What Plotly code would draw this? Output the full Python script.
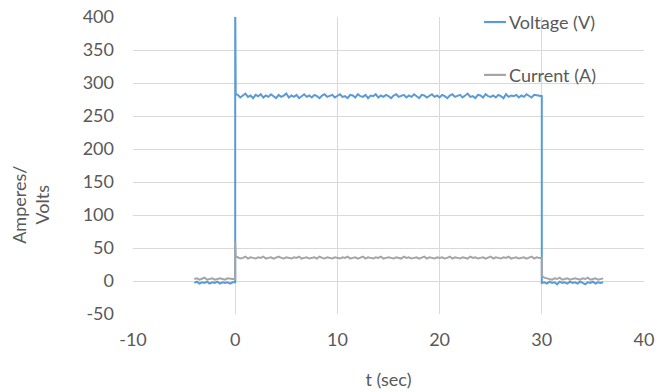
import plotly.graph_objects as go

# ---- data ----
DT = 0.25  # sampling period (s)
t_pre = [-4 + i * DT for i in range(16)]          # -4 .. -0.25
t_on = [DT * (i + 1) for i in range(119)]          # 0.25 .. 29.75
t_post = [30 + DT * (i + 1) for i in range(24)]    # 30.25 .. 36

v_pre = [-3, -1, -4, -2, -3, -1, -4, -2, -3, -1, -4, -2, -3, -2, -4, -2]
v_on = [282, 278, 281, 284, 279, 281, 277, 282, 280, 283, 278, 281, 279, 283, 280, 277, 282, 279, 281, 284,
        278, 281, 279, 282, 277, 280, 283, 279, 281, 278, 282, 280, 277, 281, 283, 279, 280, 282, 278, 281,
        283, 279, 280, 277, 282, 281, 278, 283, 280, 279, 282, 277, 281, 280, 283, 278, 281, 279, 282, 280,
        277, 281, 283, 279, 280, 282, 278, 281, 279, 283, 280, 277, 282, 281, 278, 280, 283, 279, 281, 278,
        282, 280, 277, 281, 283, 279, 280, 282, 278, 281, 284, 279, 280, 277, 282, 281, 278, 283, 280, 279,
        281, 278, 282, 280, 277, 283, 279, 281, 280, 282, 278, 281, 279, 283, 280, 278, 282, 281, 280]
v_post = [-2, -4, -1, -3, -2, -5, -1, -3, -2, -4, -1, -3, -2, -4, -1, -3, -5, -2, -3, -1, -4, -2, -3, -2]

c_pre = [3, 4, 2, 3, 5, 2, 3, 4, 2, 3, 4, 3, 2, 4, 3, 3]
c_on = [36, 34, 35, 37, 34, 36, 35, 34, 36, 35, 37, 34, 35, 36, 34, 35, 37, 35, 34, 36,
        35, 34, 36, 35, 37, 34, 35, 36, 34, 35, 36, 34, 37, 35, 34, 36, 35, 34, 36, 35,
        34, 36, 35, 37, 34, 35, 36, 34, 35, 37, 34, 36, 35, 34, 36, 35, 37, 34, 35, 36,
        35, 34, 36, 35, 34, 37, 35, 36, 34, 35, 36, 34, 35, 37, 34, 36, 35, 34, 36, 35,
        36, 34, 35, 37, 34, 36, 35, 34, 36, 35, 34, 37, 35, 36, 34, 35, 36, 34, 35, 37,
        34, 36, 35, 34, 36, 35, 37, 34, 35, 36, 34, 35, 36, 34, 35, 37, 34, 36, 35]
c_post = [5, 4, 3, 2, 4, 3, 5, 2, 3, 4, 2, 3, 4, 3, 2, 4, 3, 5, 2, 3, 4, 2, 3, 4]

# switching edges (turn-on spike at t=0, turn-off at t=30)
v_on_edge_t = [0, 0, 0.05]
v_on_edge = [-2, 430, 283]
v_off_edge_t = [30, 30]
v_off_edge = [280, -3]
c_on_edge_t = [0, 0, 0.05]
c_on_edge = [3, 60, 37]
c_off_edge_t = [30, 30]
c_off_edge = [35, 8]

v_time = t_pre + v_on_edge_t + t_on + v_off_edge_t + t_post
voltage = v_pre + v_on_edge + v_on + v_off_edge + v_post
c_time = t_pre + c_on_edge_t + t_on + c_off_edge_t + t_post
current = c_pre + c_on_edge + c_on + c_off_edge + c_post

x_ticks = [-10, 0, 10, 20, 30, 40]
x_labels = ["-10", "0", "10", "20", "30", "40"]
y_ticks = [-50, 0, 50, 100, 150, 200, 250, 300, 350, 400]
y_labels = ["-50", "0", "50", "100", "150", "200", "250", "300", "350", "400"]

BLUE = "#5b9bd5"
GRAY = "#a5a5a5"
TXT = "#595959"
FONT = "Lato"
FS = 18

fig = go.Figure()
fig.add_trace(go.Scatter(x=v_time, y=voltage, mode="lines", name="Voltage (V)",
                         line=dict(color=BLUE, width=2), showlegend=False))
fig.add_trace(go.Scatter(x=c_time, y=current, mode="lines", name="Current (A)",
                         line=dict(color=GRAY, width=2), showlegend=False))

# manual legend
legend_items = [("Voltage (V)", BLUE, 0.983), ("Current (A)", GRAY, 0.805)]
for label, col, yp in legend_items:
    fig.add_shape(type="line", xref="paper", yref="paper", x0=0.687, x1=0.730,
                  y0=yp, y1=yp, line=dict(color=col, width=2.2))
    fig.add_annotation(text=label, xref="paper", yref="paper", x=0.731, y=yp,
                       xanchor="left", yanchor="middle", showarrow=False,
                       font=dict(family=FONT, size=FS, color=TXT))

fig.add_annotation(text="Amperes/<br>Volts", xref="paper", yref="paper",
                   x=-0.202, y=0.367, textangle=-90, showarrow=False,
                   xanchor="center", yanchor="middle",
                   font=dict(family=FONT, size=FS, color=TXT))

fig.update_layout(
    width=668, height=392,
    margin=dict(l=133, r=24, t=17, b=78),
    paper_bgcolor="white", plot_bgcolor="white",
    font=dict(family=FONT, size=FS, color=TXT),
    xaxis=dict(range=[-10, 40], tickvals=x_ticks, ticktext=x_labels, showgrid=True,
               gridcolor="#d9d9d9", gridwidth=1, zeroline=False, showline=False, ticks="",
               ticklabelstandoff=13, automargin=False,
               title=dict(text="t (sec)", standoff=24, font=dict(family=FONT, size=FS, color=TXT))),
    yaxis=dict(range=[-50, 400], tickvals=y_ticks, ticktext=y_labels, showgrid=True,
               gridcolor="#d9d9d9", gridwidth=1, zeroline=False, showline=False, ticks="",
               ticklabelstandoff=18, automargin=False),
)

fig.write_html("out.html", config={"displayModeBar": False},
               post_script="document.body.style.margin='0';document.body.style.overflow='hidden';")
